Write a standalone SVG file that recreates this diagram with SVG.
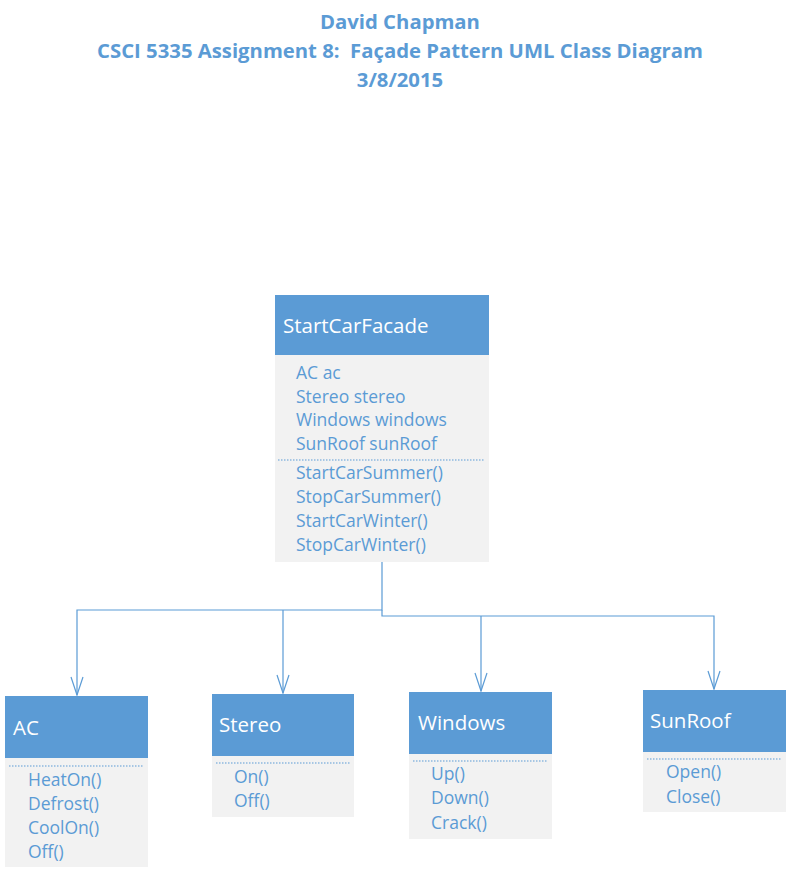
<svg xmlns="http://www.w3.org/2000/svg" width="787" height="874" viewBox="0 0 787 874">
<style>
.title{font-family:"Open Sans","Noto Sans",sans-serif;font-weight:bold;font-size:20.3px;fill:#5b9bd5;text-anchor:middle}
.hdr{fill:#5b9bd5}
.body{fill:#f2f2f2}
.hname{font-family:"Open Sans","Noto Sans",sans-serif;font-size:20.5px;fill:#ffffff}
.mem{font-family:"Open Sans","Noto Sans",sans-serif;font-size:17.5px;fill:#5b9bd5}
.sep{stroke:#5b9bd5;stroke-width:1;stroke-dasharray:1.5 1.5;fill:none}
.conn{stroke:#5b9bd5;stroke-width:1.2;fill:none}
.arrow{stroke:#5b9bd5;stroke-width:1.2;fill:none}
</style>
<rect width="787" height="874" fill="#ffffff"/>
<g id="title">
<text class="title" x="400" y="29">David Chapman</text>
<text class="title" x="400" y="58" xml:space="preserve">CSCI 5335 Assignment 8:  Façade Pattern UML Class Diagram</text>
<text class="title" x="400" y="87">3/8/2015</text>
</g>
<g id="connectors">
<path class="conn" d="M382,562 V610 H77 V695"/>
<path class="conn" d="M283,610 V693"/>
<path class="conn" d="M382,610 V616 H714 V689"/>
<path class="conn" d="M481,616 V691"/>
<path class="arrow" d="M71,677 L77,695 L83,677"/>
<path class="arrow" d="M277,675 L283,693 L289,675"/>
<path class="arrow" d="M475,673 L481,691 L487,673"/>
<path class="arrow" d="M708,671 L714,689 L720,671"/>
</g>
<g id="StartCarFacade">
<rect class="hdr" x="275" y="295" width="214" height="60"/>
<rect class="body" x="275" y="355" width="214" height="207"/>
<text class="hname" x="283" y="333">StartCarFacade</text>
<text class="mem" x="296" y="379">AC ac</text>
<text class="mem" x="296" y="403">Stereo stereo</text>
<text class="mem" x="296" y="426">Windows windows</text>
<text class="mem" x="296" y="450">SunRoof sunRoof</text>
<line class="sep" x1="278" y1="460" x2="485" y2="460"/>
<text class="mem" x="296" y="479">StartCarSummer()</text>
<text class="mem" x="296" y="503">StopCarSummer()</text>
<text class="mem" x="296" y="527">StartCarWinter()</text>
<text class="mem" x="296" y="551">StopCarWinter()</text>
</g>
<g id="AC">
<rect class="hdr" x="5" y="696" width="143" height="62"/>
<rect class="body" x="5" y="758" width="143" height="109"/>
<text class="hname" x="13" y="735">AC</text>
<line class="sep" x1="9" y1="766" x2="143" y2="766"/>
<text class="mem" x="28" y="786">HeatOn()</text>
<text class="mem" x="28" y="810">Defrost()</text>
<text class="mem" x="28" y="834">CoolOn()</text>
<text class="mem" x="28" y="858">Off()</text>
</g>
<g id="Stereo">
<rect class="hdr" x="212" y="694" width="142" height="62"/>
<rect class="body" x="212" y="756" width="142" height="61"/>
<text class="hname" x="219" y="732">Stereo</text>
<line class="sep" x1="216" y1="763" x2="350" y2="763"/>
<text class="mem" x="234" y="783">On()</text>
<text class="mem" x="234" y="807">Off()</text>
</g>
<g id="Windows">
<rect class="hdr" x="409" y="692" width="143" height="62"/>
<rect class="body" x="409" y="754" width="143" height="85"/>
<text class="hname" x="418" y="730">Windows</text>
<line class="sep" x1="413" y1="761" x2="548" y2="761"/>
<text class="mem" x="431" y="780">Up()</text>
<text class="mem" x="431" y="804">Down()</text>
<text class="mem" x="431" y="829">Crack()</text>
</g>
<g id="SunRoof">
<rect class="hdr" x="643" y="690" width="143" height="62"/>
<rect class="body" x="643" y="752" width="143" height="60"/>
<text class="hname" x="650" y="728">SunRoof</text>
<line class="sep" x1="647" y1="759" x2="782" y2="759"/>
<text class="mem" x="666" y="778">Open()</text>
<text class="mem" x="666" y="803">Close()</text>
</g>
</svg>
